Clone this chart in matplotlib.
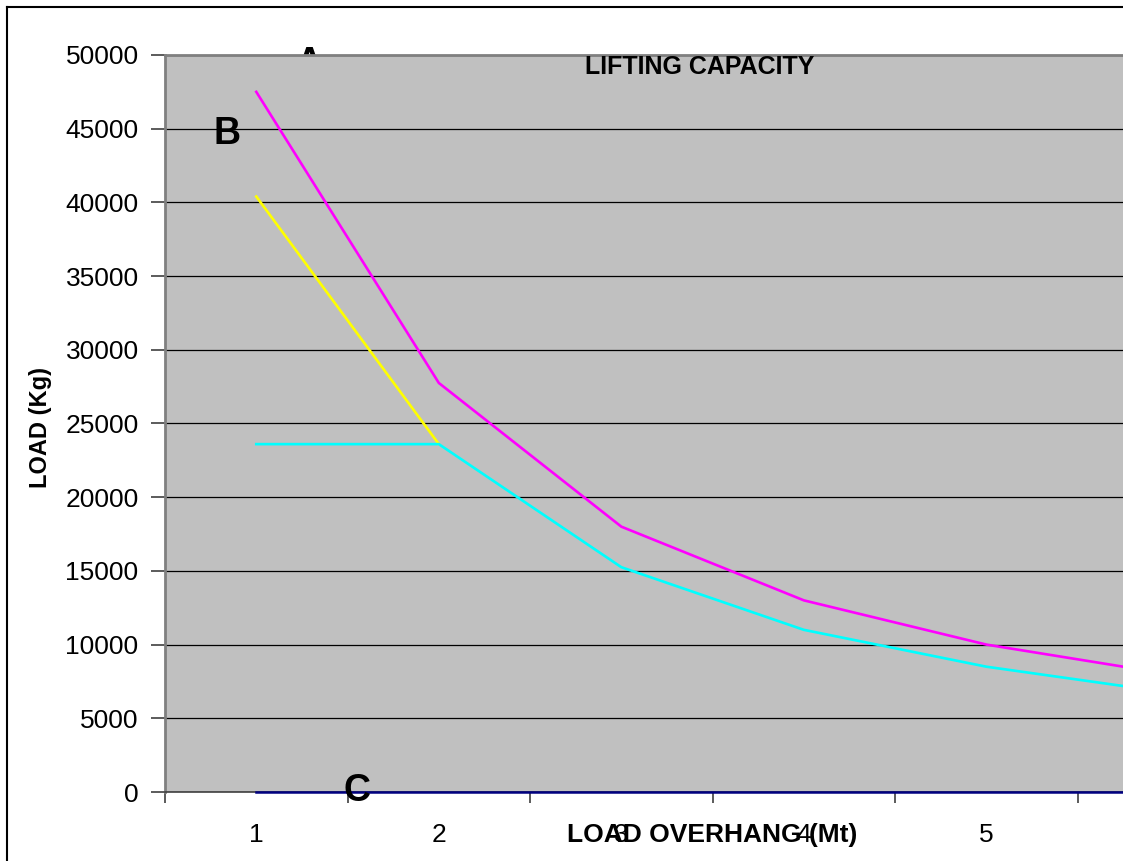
import matplotlib
matplotlib.use('Agg')
import matplotlib.pyplot as plt
from matplotlib.lines import Line2D
import numpy as np

plt.rcParams['font.family'] = ['Liberation Sans', 'DejaVu Sans']

# data
overhang = ['1', '2', '3', '4', '5', '6']
load_a = [47500, 27750, 18000, 13000, 10000, 8000]    # magenta
load_b = [40400, 23600]                               # yellow
load_c = [23600, 23600, 15250, 11000, 8500, 6750]     # cyan
load_d = [0, 0, 0, 0, 0, 0]                           # navy
yticks = list(range(0, 50001, 5000))

W, H = 1123, 861
fig = plt.figure(figsize=(W / 100, H / 100), dpi=100)

# plot area runs past the right edge of the picture
left, top, bottom = 165, 55, 792
cat_w = 182.55
right = left + len(overhang) * cat_w
ax = fig.add_axes([left / W, 1 - bottom / H, (right - left) / W, (bottom - top) / H])
ax.set_facecolor('#C0C0C0')

x = np.arange(len(overhang))
ax.plot(x[:len(load_b)], load_b, color='#FFFF00', lw=1.9, zorder=3)
ax.plot(x, load_c, color='#00FFFF', lw=1.9, zorder=4)
ax.plot(x, load_a, color='#FF00FF', lw=1.9, zorder=5)
ax.plot(x, load_d, color='#000080', lw=1.8, zorder=6, clip_on=False)

ax.set_xlim(-0.5, len(overhang) - 0.5)
ax.set_ylim(0, 50000)
ax.set_yticks(yticks)
ax.set_yticklabels([str(v) for v in yticks])
ax.yaxis.grid(True, color='black', lw=0.9)
ax.set_axisbelow(True)

ax.set_xticks(x)
ax.set_xticklabels(overhang)
ax.set_xticks(np.arange(-0.5, len(overhang), 1.0), minor=True)
ax.tick_params(axis='x', which='major', length=0, pad=22, labelsize=19)
ax.tick_params(axis='x', which='minor', length=8, width=1.2, color='#404040', direction='out')
ax.tick_params(axis='y', length=10, width=1.2, color='#404040', pad=9, labelsize=19)

for s in ['left', 'top']:
    ax.spines[s].set_color('#808080')
    ax.spines[s].set_linewidth(2)
ax.spines['bottom'].set_color('#404040')
ax.spines['bottom'].set_linewidth(1.2)
ax.spines['right'].set_visible(False)

# text laid out in figure pixels
def fx(px):
    return px / W

def fy(py):
    return 1 - py / H

fig.text(fx(41), fy(428), 'LOAD (Kg)', rotation=90, ha='center', va='center',
         fontsize=17, fontweight='bold')
fig.text(fx(700), fy(74), 'LIFTING CAPACITY', ha='center', va='baseline',
         fontsize=18, fontweight='bold')
fig.text(fx(712), fy(842), 'LOAD OVERHANG (Mt)', ha='center', va='baseline',
         fontsize=19, fontweight='bold', zorder=10)
fig.text(fx(309), fy(74), 'A', ha='center', va='baseline', fontsize=27,
         fontweight='bold', zorder=-1)
fig.text(fx(227), fy(144), 'B', ha='center', va='baseline', fontsize=27,
         fontweight='bold', zorder=10)
fig.text(fx(357), fy(801), 'C', ha='center', va='baseline', fontsize=27,
         fontweight='bold', zorder=10)

# chart area border (only top and left fall inside the picture)
fig.add_artist(Line2D([fx(7), fx(7)], [-0.1, fy(7)], color='black', lw=1.5,
                      transform=fig.transFigure))
fig.add_artist(Line2D([fx(7), 1.1], [fy(7), fy(7)], color='black', lw=1.5,
                      transform=fig.transFigure))

fig.savefig('out.png', dpi=100)
